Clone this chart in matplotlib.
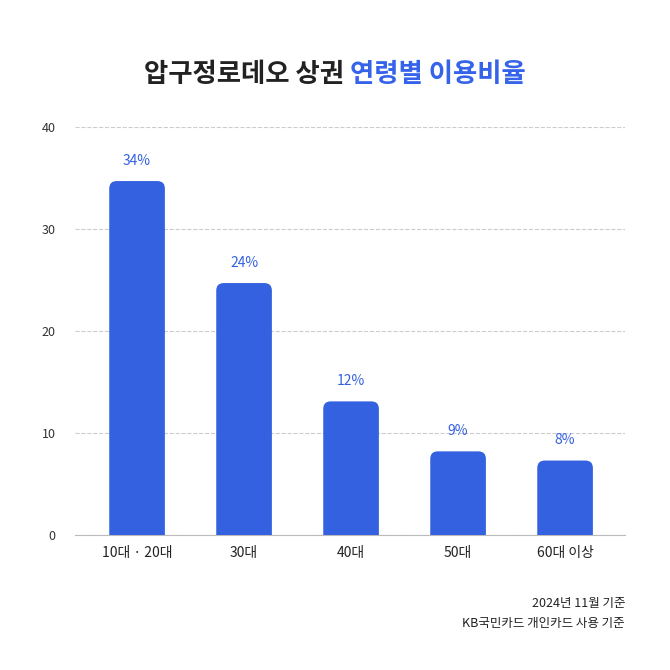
import matplotlib
matplotlib.use("Agg")
import matplotlib.pyplot as plt
from matplotlib.patches import FancyBboxPatch

plt.rcParams["font.family"] = ["Noto Sans CJK KR", "Noto Sans CJK JP", "Noto Sans CJK SC", "DejaVu Sans"]

categories = ["10대 · 20대", "30대", "40대", "50대", "60대 이상"]
heights = [34.7, 24.7, 13.1, 8.2, 7.3]
labels = ["34%", "24%", "12%", "9%", "8%"]
yticks = [0, 10, 20, 30, 40]

blue = "#3461E0"
fig = plt.figure(figsize=(6.7, 6.7), dpi=100)
ax = fig.add_axes([75 / 670, 1 - 535 / 670, 550 / 670, 408 / 670])
ax.set_xlim(-0.58, 4.56)
ax.set_ylim(0, 40)

w = 0.52
for i, h in enumerate(heights):
    p = FancyBboxPatch((i - w / 2, -2), w, h + 2,
                       boxstyle="round,pad=0,rounding_size=0.07",
                       mutation_aspect=10.5, fc=blue, ec="none", zorder=3)
    ax.add_patch(p)
    ax.text(i, h + 1.3, labels[i], ha="center", va="bottom", color=blue, fontsize=10)

ax.set_yticks(yticks)
ax.set_xticks(range(len(categories)))
ax.set_xticklabels(categories, fontsize=10, color="#222222")
ax.tick_params(axis="y", length=0, labelsize=9, colors="#333333", pad=14)
ax.tick_params(axis="x", length=0, pad=8)
ax.grid(axis="y", linestyle="--", color="#cccccc", linewidth=0.8, zorder=0)
for s in ["top", "right", "left"]:
    ax.spines[s].set_visible(False)
ax.spines["bottom"].set_color("#bbbbbb")

# title in two colours, laid side by side
ty = 1 - 75 / 670
t1 = fig.text(0, ty, "압구정로데오 상권 ", va="center", fontsize=19, fontweight="bold", color="#222222")
t2 = fig.text(0, ty, "연령별 이용비율", va="center", fontsize=19, fontweight="bold", color="#3563E9")
r = fig.canvas.get_renderer()
w1 = t1.get_window_extent(r).width / 670
w2 = t2.get_window_extent(r).width / 670
x0 = 0.5 - (w1 + w2) / 2
t1.set_x(x0)
t2.set_x(x0 + w1)

fig.text(625 / 670, 1 - 604 / 670, "2024년 11월 기준", ha="right", va="center",
         fontsize=9, color="#222222")
fig.text(625 / 670, 1 - 624 / 670, "KB국민카드 개인카드 사용 기준", ha="right", va="center",
         fontsize=9, color="#222222")

fig.savefig("out.png", dpi=100, facecolor="white")
